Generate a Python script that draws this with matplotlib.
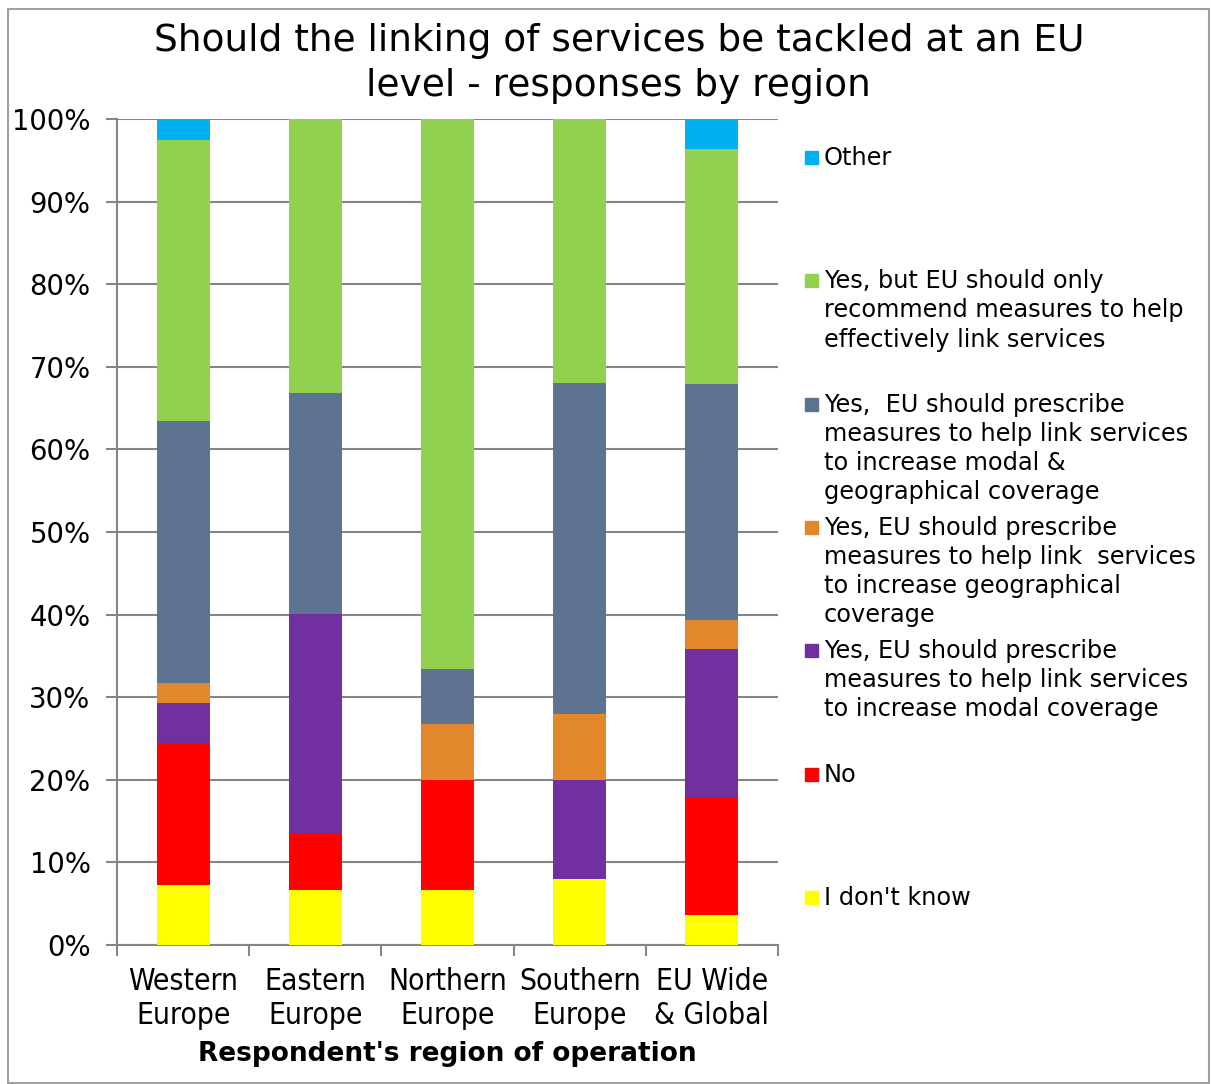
import matplotlib
matplotlib.use("Agg")
import matplotlib.pyplot as plt
from matplotlib.patches import Rectangle
import numpy as np

# regions and responses (percent of respondents)
regions = ["Western\nEurope", "Eastern\nEurope", "Northern\nEurope", "Southern\nEurope", "EU Wide\n& Global"]
dont_know = [7.3, 6.7, 6.7, 8.0, 3.6]
no = [17.1, 6.7, 13.3, 0.0, 14.3]
modal = [4.9, 26.7, 0.0, 12.0, 17.9]
geo = [2.4, 0.0, 6.7, 8.0, 3.6]
modal_geo = [31.7, 26.7, 6.7, 40.0, 28.5]
recommend = [34.1, 33.3, 66.7, 32.0, 28.5]
other = [2.4, 0.0, 0.0, 0.0, 3.6]

series = [dont_know, no, modal, geo, modal_geo, recommend, other]
labels = ["I don't know", "No",
          "Yes, EU should prescribe\nmeasures to help link services\nto increase modal coverage",
          "Yes, EU should prescribe\nmeasures to help link  services\nto increase geographical\ncoverage",
          "Yes,  EU should prescribe\nmeasures to help link services\nto increase modal &\ngeographical coverage",
          "Yes, but EU should only\nrecommend measures to help\neffectively link services",
          "Other"]
colors = ["#FFFF00", "#FF0000", "#7030A0", "#E3872D", "#5E7291", "#92D050", "#00B0F0"]

fig = plt.figure(figsize=(12.11, 10.84), dpi=100)
ax = fig.add_axes([117/1211, 1 - 945/1084, (778-117)/1211, (945-119)/1084])

x = np.arange(len(regions))
bottom = np.zeros(len(regions))
for vals, c in zip(series, colors):
    ax.bar(x, vals, 0.4, bottom=bottom, color=c, zorder=3)
    bottom += np.array(vals)

ax.set_xlim(-0.5, len(regions) - 0.5)
ax.set_ylim(0, 100)
ax.set_yticks(np.arange(0, 101, 10))
ax.set_yticklabels([f"{v}%" for v in range(0, 101, 10)], fontsize=19.8)
ax.yaxis.grid(True, color="#868686", linewidth=1.5, zorder=0)
ax.set_xticks(x)
ax.set_xticklabels(regions, fontsize=21.5, fontstretch="condensed", linespacing=1.2)
ax.set_xticks(np.arange(-0.5, len(regions)), minor=True)
ax.tick_params(axis="x", which="major", length=0, pad=16)
ax.tick_params(axis="x", which="minor", length=8, color="#868686", width=1.5)
ax.tick_params(axis="y", length=8, color="#868686", width=1.5, pad=11)
for s in ["top", "right"]:
    ax.spines[s].set_visible(False)
for s in ["left", "bottom"]:
    ax.spines[s].set_color("#868686")
    ax.spines[s].set_linewidth(1.5)

ax.set_xlabel("Respondent's region of operation", fontsize=19, fontweight="bold", labelpad=8)

fig.text(0.511, 0.979, "Should the linking of services be tackled at an EU\nlevel - responses by region",
         ha="center", va="top", fontsize=27, linespacing=1.32)

# legend, entries evenly spaced like the original
for i, (lab, c) in enumerate(zip(labels[::-1], colors[::-1])):
    yc = 157 + i * 123.3
    fig.patches.append(Rectangle((805/1211, 1 - (yc + 7)/1084), 13/1211, 13/1084,
                                 transform=fig.transFigure, color=c))
    fig.text(824/1211, 1 - (yc - 11)/1084, lab, ha="left", va="top", fontsize=17.3, linespacing=1.27)

fig.patches.append(Rectangle((8/1211, 1/1084), 1201/1211, 1074/1084, transform=fig.transFigure,
                             fill=False, edgecolor="#A0A0A0", linewidth=1.5))

fig.savefig("out.png", dpi=100)
